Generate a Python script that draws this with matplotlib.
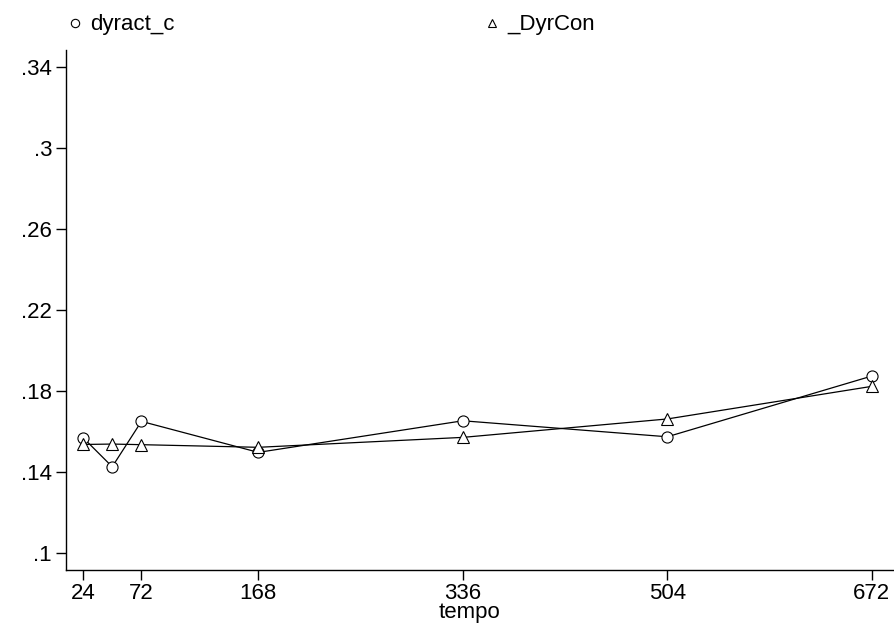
import matplotlib
matplotlib.use("Agg")
import matplotlib.pyplot as plt

plt.rcParams['font.family'] = ['Liberation Sans', 'DejaVu Sans']

# data
tempo = [24, 48, 72, 168, 336, 504, 672]
dyract_c = [0.1570, 0.1426, 0.1650, 0.1497, 0.1653, 0.1574, 0.1874]
dyrcon = [0.1536, 0.1538, 0.1535, 0.1522, 0.1571, 0.1662, 0.1823]

xticks = [24, 72, 168, 336, 504, 672]
yticks = [0.1, 0.14, 0.18, 0.22, 0.26, 0.3, 0.34]
ytick_labels = ['.1', '.14', '.18', '.22', '.26', '.3', '.34']

fig = plt.figure(figsize=(8.95, 6.24), dpi=100)
ax = fig.add_axes([0.0737, 0.0865, 0.9263, 0.8334])

ax.plot(tempo, dyract_c, color='black', linewidth=0.9, marker='o', markersize=8,
        markerfacecolor='white', markeredgecolor='black', markeredgewidth=0.8,
        label='dyract_c')
ax.plot(tempo, dyrcon, color='black', linewidth=0.9, marker='^', markersize=8,
        markerfacecolor='white', markeredgecolor='black', markeredgewidth=0.8,
        label='_DyrCon')

ax.set_xlim(10, 691)
ax.set_ylim(0.0916, 0.3484)
ax.set_xticks(xticks)
ax.set_xticklabels([str(t) for t in xticks])
ax.set_yticks(yticks)
ax.set_yticklabels(ytick_labels)
ax.tick_params(axis='both', labelsize=16, length=7, width=1, color='black', pad=3)
ax.tick_params(axis='x', pad=2)
ax.set_xlabel('tempo', fontsize=16)
ax.xaxis.set_label_coords(0.487, -0.061, transform=ax.transAxes)

ax.spines['top'].set_visible(False)
ax.spines['right'].set_visible(False)
ax.spines['left'].set_linewidth(1)
ax.spines['bottom'].set_linewidth(1)

# legend entries shown with small markers and no line, like the original
handles = []
for mk, lab in [('o', 'dyract_c'), ('^', '_DyrCon')]:
    h, = ax.plot([], [], linestyle='none', marker=mk, markersize=6,
                 markerfacecolor='white', markeredgecolor='black',
                 markeredgewidth=0.8, label=lab)
    handles.append(h)
leg = fig.legend(handles=handles, labels=['dyract_c', '_DyrCon'], ncol=2,
                 loc='center left', bbox_to_anchor=(0.0775, 0.96), frameon=False,
                 fontsize=16, handlelength=0.5, handletextpad=0.45,
                 columnspacing=14.0, borderaxespad=0, borderpad=0)

fig.savefig('out.png', dpi=100)
